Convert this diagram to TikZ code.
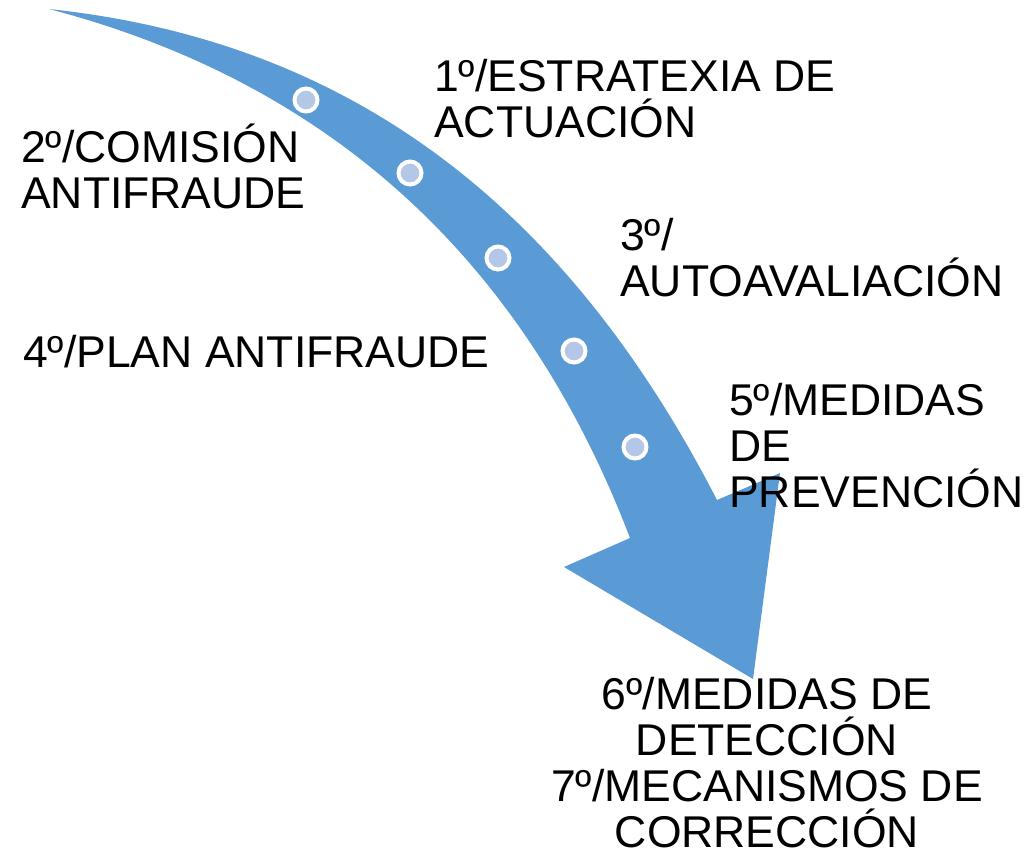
\documentclass[tikz,border=0pt]{standalone}
\usepackage{fontspec}
\setmainfont{Liberation Sans}
\definecolor{arrowblue}{RGB}{91,155,213}
\definecolor{dotblue}{RGB}{180,199,231}
\tikzset{
  steplabel/.style={inner sep=0pt, font=\fontsize{44.5}{46}\selectfont, anchor=base west, align=left},
  stepdot/.style={circle, fill=dotblue, draw=white, line width=4pt, minimum size=23pt, inner sep=0pt},
}

\begin{document}
\begin{tikzpicture}[x=1pt, y=-1pt]
  \useasboundingbox (0,0) rectangle (1028,855);
  \fill[arrowblue] (49,9) .. controls (340,40) and (560,195) .. (717,500)
    -- (780,473) -- (753,679) -- (564,567) -- (630,538)
    .. controls (520,250) and (320,80) .. (49,9) -- cycle;
  \foreach \n/\p in {1/{(306,100)}, 2/{(410,173)}, 3/{(498,258)}, 4/{(574,351)}, 5/{(635,447)}}
    \node[stepdot] (d\n) at \p {};
  \node[steplabel] (s1) at (434,137) {1º/ESTRATEXIA DE\\ACTUACIÓN};
  \node[steplabel] (s2) at (21,208) {2º/COMISIÓN\\ANTIFRAUDE};
  \node[steplabel] (s3) at (620,296) {3º/\\AUTOAVALIACIÓN};
  \node[steplabel] (s4) at (23,367) {4º/PLAN ANTIFRAUDE};
  \node[steplabel] (s5) at (729,507) {5º/MEDIDAS\\DE\\PREVENCIÓN};
  \node[steplabel, anchor=base, align=center] (s6) at (767,847)
    {6º/MEDIDAS DE\\DETECCIÓN\\7º/MECANISMOS DE\\CORRECCIÓN};
\end{tikzpicture}
\end{document}
